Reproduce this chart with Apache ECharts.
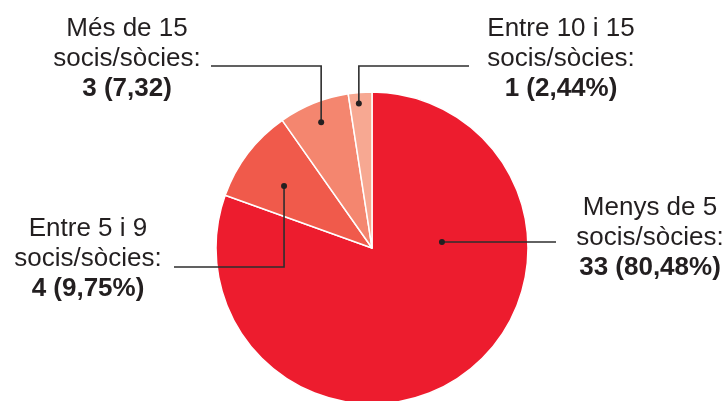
<!DOCTYPE html>
<html>
<head>
<meta charset="utf-8">
<script src="https://cdn.jsdelivr.net/npm/echarts@6/dist/echarts.min.js"></script>
<style>
html,body{margin:0;padding:0;background:#fff;}
#chart{width:727px;height:401px;}
</style>
</head>
<body>
<div id="chart"></div>
<script>
// Data
var categories = ['Menys de 5', 'Entre 5 i 9', 'Més de 15', 'Entre 10 i 15'];
var counts = [33, 4, 3, 1];
var pctLabels = ['80,48%', '9,75%', '7,32', '2,44%'];
var colors = ['#ED1C2E', '#F05A4B', '#F4866F', '#F7A892'];

// Layout (annotation placement)
var center = [372, 248];
var radius = 156;
// dot anchor: angle (deg, ccw from +x), fraction of radius
var anchors = [[4.9, 0.45], [144.8, 0.69], [112.0, 0.87], [95.2, 0.93]];
// elbow/line: [elbowY or null, endX]
var lineEnds = [[null, 556], [267, 174], [66, 211], [66, 469]];
var labelPos = [[650, 238], [88, 259], [127, 59], [561, 59]];

function anchorPx(i) {
  var a = anchors[i][0] * Math.PI / 180;
  var r = anchors[i][1] * radius;
  return [center[0] + r * Math.cos(a), center[1] - r * Math.sin(a)];
}
function linePts(i) {
  var p = anchorPx(i);
  var e = lineEnds[i];
  if (e[0] === null) return [[p[0], p[1]], [e[1], p[1]]];
  return [[p[0], p[1]], [p[0], e[0]], [e[1], e[0]]];
}

var data = categories.map(function (c, i) {
  return {
    name: c,
    value: counts[i],
    itemStyle: { color: colors[i] },
    label: {
      formatter: '{a|' + c + '}\n{a|socis/sòcies:}\n{b|' + counts[i] + ' (' + pctLabels[i] + ')}'
    }
  };
});

var chart = echarts.init(document.getElementById('chart'), null, { renderer: 'canvas' });

var graphics = [];
categories.forEach(function (c, i) {
  var p = anchorPx(i);
  graphics.push({
    type: 'polyline',
    shape: { points: linePts(i) },
    style: { stroke: '#2E2E2E', lineWidth: 1.6, fill: null },
    z: 100
  });
  graphics.push({
    type: 'circle',
    shape: { cx: p[0], cy: p[1], r: 3 },
    style: { fill: '#231F20' },
    z: 101
  });
});

chart.setOption({
  animation: false,
  backgroundColor: '#fff',
  graphic: graphics,
  series: [{
    type: 'pie',
    center: center,
    radius: radius,
    startAngle: 90,
    clockwise: true,
    silent: true,
    itemStyle: { borderColor: '#fff', borderWidth: 1.5 },
    label: {
      show: true,
      position: 'outside',
      align: 'center',
      color: '#231F20',
      fontFamily: 'Liberation Sans, Arial, sans-serif',
      rich: {
        a: { fontSize: 26, lineHeight: 30, color: '#231F20', fontFamily: 'Liberation Sans, Arial, sans-serif' },
        b: { fontSize: 26, lineHeight: 30, fontWeight: 'bold', color: '#231F20', fontFamily: 'Liberation Sans, Arial, sans-serif' }
      }
    },
    labelLine: { show: false },
    labelLayout: function (params) {
      var i = params.dataIndex;
      return {
        x: labelPos[i][0],
        y: labelPos[i][1],
        align: 'center',
        verticalAlign: 'middle'
      };
    },
    data: data
  }]
});
</script>
</body>
</html>
